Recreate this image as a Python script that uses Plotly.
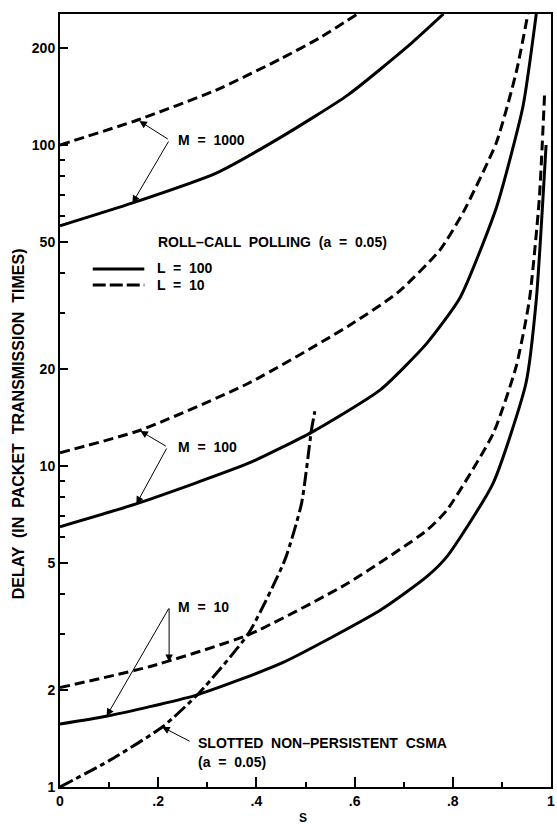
import plotly.graph_objects as go

# ---- data (S = throughput, D = delay) ----
s_m1000_l10 = [0, 0.158, 0.317, 0.451, 0.532, 0.606]
d_m1000_l10 = [100, 119.6, 148, 186, 217, 256]

s_m1000_l100 = [0, 0.148, 0.317, 0.451, 0.586, 0.707, 0.781]
d_m1000_l100 = [56, 66, 81.6, 106, 143, 202, 256]

s_m100_l10 = [0, 0.162, 0.384, 0.586, 0.687, 0.774, 0.822, 0.889, 0.929, 0.953]
d_m100_l10 = [11.0, 12.9, 18.1, 27.2, 34.6, 47.1, 62, 102, 168, 256]

s_m100_l100 = [0, 0.155, 0.384, 0.515, 0.653, 0.747, 0.815, 0.889, 0.943, 0.970]
d_m100_l100 = [6.47, 7.62, 10.2, 12.8, 17.3, 24.1, 33.5, 64, 132, 256]

s_m10_l10 = [0, 0.182, 0.384, 0.586, 0.747, 0.788, 0.882, 0.929, 0.956, 0.976, 0.987]
d_m10_l10 = [2.04, 2.37, 2.98, 4.31, 6.3, 7.29, 12.6, 20.4, 32.9, 67.4, 145]

s_m10_l100 = [0, 0.094, 0.276, 0.451, 0.653, 0.747, 0.788, 0.882, 0.949, 0.970, 0.990]
d_m10_l100 = [1.57, 1.66, 1.93, 2.43, 3.56, 4.52, 5.22, 8.83, 18.1, 32.9, 100]

s_csma = [0, 0.101, 0.209, 0.283, 0.384, 0.458, 0.492, 0.512, 0.519]
d_csma = [1, 1.21, 1.54, 1.96, 3.01, 5.1, 7.65, 12.9, 14.8]

x_tickvals = [0, 0.2, 0.4, 0.6, 0.8, 1]
x_ticktext = ["0", ".2", ".4", ".6", ".8", "1"]
x_minor = [0.1, 0.3, 0.5, 0.7, 0.9]
y_tickvals = [1, 2, 5, 10, 20, 50, 100, 200]
y_ticktext = ["1", "2", "5", "10", "20", "50", "100", "200"]
y_minor = [3, 4, 6, 7, 8, 9, 30, 40, 60, 70, 80, 90]

# ---- figure ----
W, H = 557, 824
ML, MR, MT, MB = 60, 2, 14, 37
PW, PH = W - ML - MR, H - MT - MB

def pxx(x):
    return (x - ML) / PW

def pxy(y):
    return (H - MB - y) / PH

FONT = "Liberation Sans, Arial, Helvetica, sans-serif"
DASH = "10px,5px"
LW = 3

fig = go.Figure()

def add(s, d, dash):
    fig.add_trace(go.Scatter(
        x=s, y=d, mode="lines",
        line=dict(color="black", width=LW, dash=dash, shape="spline", smoothing=0.55),
        showlegend=False, hoverinfo="skip", cliponaxis=True))

add(s_m1000_l10, d_m1000_l10, DASH)
add(s_m1000_l100, d_m1000_l100, "solid")
add(s_m100_l10, d_m100_l10, DASH)
add(s_m100_l100, d_m100_l100, "solid")
add(s_m10_l10, d_m10_l10, DASH)
add(s_m10_l100, d_m10_l100, "solid")
add(s_csma, d_csma, "14px,4px,5px,4px")

ann = []

def text(x, y, t, size=14, anchor="left"):
    ann.append(dict(x=pxx(x), y=pxy(y), xref="paper", yref="paper", text=t,
                    showarrow=False, xanchor=anchor, yanchor="middle",
                    font=dict(family=FONT, size=size, color="black", weight="bold")))

def arrow(tip, vertex):
    ann.append(dict(x=pxx(tip[0]), y=pxy(tip[1]), xref="paper", yref="paper", text="",
                    showarrow=True, ax=vertex[0] - tip[0], ay=vertex[1] - tip[1],
                    axref="pixel", ayref="pixel", arrowhead=2, arrowsize=1.5,
                    arrowwidth=1, arrowcolor="black", standoff=0, startstandoff=0))

text(177, 140, "M  =  1000")
arrow((140, 121), (170, 140))
arrow((133, 203), (170, 140))

text(177, 447, "M  =  100")
arrow((141, 431), (168, 447))
arrow((137, 504), (168, 447))

text(177, 607, "M  =  10")
arrow((170, 662), (170, 607))
arrow((107, 716), (170, 607))

text(157, 242, "ROLL\u2013CALL  POLLING  (a  =  0.05)")
text(156, 268, "L  =  100")
text(156, 285, "L  =  10")

text(197, 743, "SLOTTED  NON\u2013PERSISTENT  CSMA")
text(197, 762, "(a  =  0.05)")
arrow((163, 727), (192, 742))

ann.append(dict(x=pxx(19), y=pxy(424), xref="paper", yref="paper",
                text="DELAY  (IN  PACKET  TRANSMISSION  TIMES)", textangle=-90,
                showarrow=False, xanchor="center", yanchor="middle",
                font=dict(family=FONT, size=16, color="black", weight="bold")))
ann.append(dict(x=pxx(305), y=pxy(809), xref="paper", yref="paper", text="S",
                showarrow=False, xanchor="center", yanchor="top",
                font=dict(family=FONT, size=12, color="black", weight="bold")))

shapes = [
    dict(type="line", xref="paper", yref="paper", x0=pxx(93), x1=pxx(145),
         y0=pxy(269), y1=pxy(269), line=dict(color="black", width=LW)),
    dict(type="line", xref="paper", yref="paper", x0=pxx(93), x1=pxx(145),
         y0=pxy(285), y1=pxy(285), line=dict(color="black", width=LW, dash="13px,4px")),
]

tickfont = dict(family=FONT, size=14, color="black", weight="bold")

fig.update_layout(
    width=W, height=H, autosize=False,
    margin=dict(l=ML, r=MR, t=MT, b=MB, pad=0),
    paper_bgcolor="white", plot_bgcolor="white",
    annotations=ann, shapes=shapes, showlegend=False,
    xaxis=dict(range=[0, 1], tickvals=x_tickvals, ticktext=x_ticktext,
               ticks="inside", ticklen=10, tickwidth=1.5, tickcolor="black",
               showline=True, linewidth=2, linecolor="black", mirror=True,
               showgrid=False, zeroline=False, tickfont=tickfont,
               ticklabeloverflow="allow",
               minor=dict(tickvals=x_minor, ticks="inside", ticklen=5,
                          tickwidth=1.5, tickcolor="black", showgrid=False)),
    yaxis=dict(type="log", range=[0, 2.408], tickvals=y_tickvals, ticktext=y_ticktext,
               ticks="inside", ticklen=8, tickwidth=1.5, tickcolor="black",
               showline=True, linewidth=2, linecolor="black", mirror=True,
               showgrid=False, zeroline=False, tickfont=tickfont,
               minor=dict(tickvals=y_minor, ticks="inside", ticklen=5,
                          tickwidth=1.5, tickcolor="black", showgrid=False)),
)

fig.write_html("out.html")
